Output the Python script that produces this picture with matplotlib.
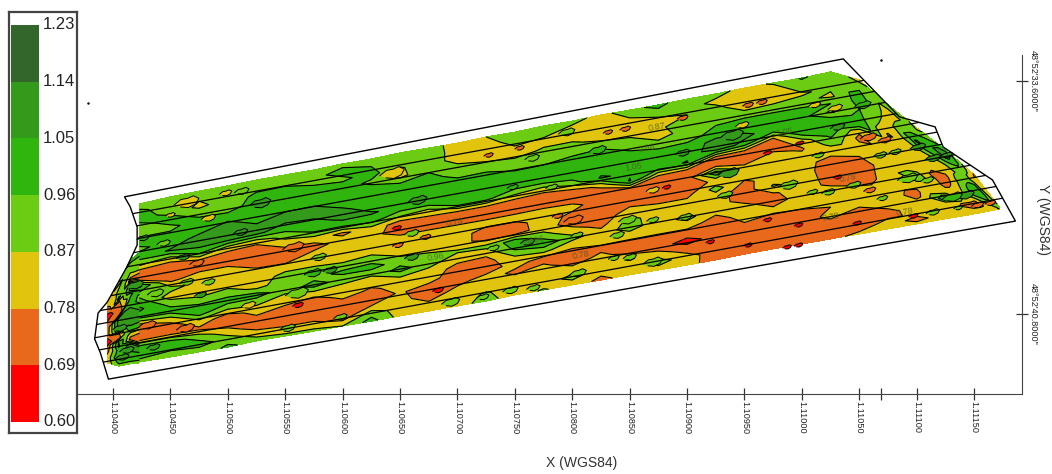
#!bin/python
#-*-coding:utf-8-*-

import matplotlib
matplotlib.use('Agg')
import matplotlib.pyplot as plt
import numpy as np
from matplotlib.colors import BoundaryNorm, ListedColormap
from matplotlib.patches import Polygon

plt.rcParams['font.family'] = ['Liberation Sans', 'DejaVu Sans']

# class limits and colours of the map
levels = [0.60, 0.69, 0.78, 0.87, 0.96, 1.05, 1.14, 1.23]
level_labels = ['0.60', '0.69', '0.78', '0.87', '0.96', '1.05', '1.14', '1.23']
colours = ['#ff0000', '#e8681c', '#e0c40e', '#6ccc14', '#30b40e', '#339a1c', '#33662a']

# longitude of each grid column, coloured area limits (seconds of latitude)
# the west lobe (first 4 columns) and the main strip share the 1.10423 column
lon_cols = [1.10395, 1.10405, 1.10415, 1.10423, 1.10423, 1.10450, 1.10475, 1.10500, 1.10525,
            1.10550, 1.10575, 1.10600, 1.10625, 1.10650, 1.10675, 1.10700, 1.10725, 1.10750,
            1.10775, 1.10800, 1.10825, 1.10850, 1.10875, 1.10900, 1.10925, 1.10950, 1.10975,
            1.11000, 1.11025, 1.11050, 1.11075, 1.11100, 1.11125, 1.11150, 1.11172]
lat_top = [40.46, 39.84, 39.13, 38.91, 37.40, 37.18, 37.00, 36.84, 36.66, 36.50, 36.35, 36.16,
           36.01, 35.82, 35.67, 35.52, 35.33, 35.18, 34.99, 34.84, 34.65, 34.50, 34.34, 34.16,
           34.00, 33.82, 33.66, 33.51, 33.32, 33.57, 34.34, 35.05, 35.73, 36.50, 37.49]
lat_bottom = [42.31, 42.41, 42.34, 42.31, 42.28, 42.13, 41.97, 41.82, 41.63, 41.48, 41.33, 41.17,
              41.02, 40.86, 40.71, 40.55, 40.40, 40.21, 40.06, 39.90, 39.75, 39.59, 39.44, 39.29,
              39.13, 38.95, 38.79, 38.64, 38.48, 38.33, 38.17, 38.02, 37.86, 37.71, 37.56]

col_values = [
    [.83,.8,.76,.73,.68,.66,.66,.72,.73,.72,.72,.73,.7,.68,.66,.68,.72,.75,.78,.8,.82,.84],
    [.9,.84,.9,.91,1.0,.75,.72,.73,.7,1.08,1.09,1.09,1.07,.76,.74,1.05,1.07,1.0,1.02,1.07,.99,.92],
    [1.0,.93,.92,.84,.74,1.07,1.08,.92,1.0,1.02,1.07,1.08,1.09,1.07,1.0,.82,.75,1.07,1.08,1.02,1.0,.92],
    [.98,.95,.92,.9,.76,.78,1.06,1.07,.95,.92,1.0,1.06,1.07,1.06,1.0,.8,.74,.76,1.07,1.05,1.0,.92],
    [.91,.98,1.0,.92,.93,1.0,.94,1.0,.9,.74,.73,1.07,.92,1.0,1.07,1.0,.77,.73,.74,1.0,1.02,.92],
    [.91,.91,.93,1.0,.94,.98,1.0,1.06,.84,.73,.72,.76,.91,.82,.93,1.0,.83,.73,.77,1.0,.97,.91],
    [.91,.88,.85,.93,1.0,1.0,1.08,1.08,1.0,.78,.73,.82,.83,.82,.88,.98,1.0,.84,.76,.92,1.0,.9],
    [.91,.88,.91,.92,1.0,1.08,1.09,1.08,.84,.73,.74,.82,.82,.84,.92,1.0,.88,.73,.74,.82,.92,.98],
    [.92,.93,.98,1.0,1.0,1.0,1.07,1.07,.82,.73,.73,.74,.82,.82,.84,1.0,.9,.82,.76,.73,.82,.92],
    [.92,.94,.98,1.0,1.0,1.06,1.07,1.0,.9,.82,.73,.73,.82,.9,.92,.91,.83,.78,.73,.72,.8,.9],
    [.92,.93,.96,1.0,1.0,1.07,1.08,1.0,.97,.82,.74,.82,.83,.9,.93,1.0,.84,.73,.72,.73,.8,.9],
    [.92,1.0,.94,1.0,1.0,1.0,1.07,1.08,.98,.76,.82,.83,.83,.88,.98,.92,.83,.82,.74,.72,.74,.87],
    [.92,.96,1.0,.94,1.0,1.0,1.0,1.06,1.0,.83,.82,.83,.84,.91,1.0,.88,.82,.76,.73,.78,.92,1.0],
    [.92,.92,.86,.84,.97,1.0,1.0,1.02,.9,.74,.72,.82,.82,.85,.91,1.0,.87,.82,.79,.82,.83,.83],
    [.9,.92,.92,.95,1.0,1.0,1.02,1.03,.85,.76,.73,.82,.83,.83,.91,.9,.83,.81,.74,.72,.8,.82],
    [.84,.83,.83,.89,.92,1.0,1.0,1.0,.97,.74,.73,.82,.82,.83,.88,.81,.75,.73,.75,.82,.83,.84],
    [.87,.83,.82,.86,.92,1.0,1.0,1.0,.98,.75,.72,.82,.74,.73,.9,.8,.74,.73,.82,.82,.88,.9],
    [.92,.91,.86,.84,.92,.96,1.0,1.0,.88,.73,.72,.82,.75,.73,1.0,.98,.87,.82,.76,.81,.82,.83],
    [.92,.9,.84,.88,.92,.96,1.0,1.02,.84,.73,.73,.82,.82,.83,.9,1.03,.9,.74,.8,.82,.82,.88],
    [.9,.84,.83,.89,.92,1.0,1.0,1.01,.92,.74,.73,.81,.76,.73,.82,.9,.8,.74,.73,.82,.9,.82],
    [.84,.83,.83,.84,.94,1.0,1.0,1.02,1.06,.8,.73,.73,.76,.73,.75,.82,.82,.75,.81,.82,.8,.76],
    [.92,.87,.84,.84,.9,.95,1.0,1.0,1.03,1.06,.75,.73,.76,.82,.9,.91,.82,.74,.73,.88,.82,.81],
    [1.0,.91,.84,.86,.84,.9,1.0,1.01,1.0,.78,.73,.73,.74,.81,.82,.82,.82,.73,.72,.82,.91,.82],
    [.88,.9,.87,.9,.9,.92,1.0,1.01,1.06,.76,.73,.73,.74,.81,.82,.9,.82,.73,.66,.74,.82,.81],
    [.9,.85,.9,.91,.96,1.0,1.08,1.09,.76,.73,1.02,.8,.91,.82,.82,.8,.74,.73,.72,.72,.73,.74],
    [.84,.83,.82,.88,.98,1.0,1.07,1.03,.76,.73,.8,.82,.76,.73,.74,.81,.82,.78,.73,.72,.72,.74],
    [.88,.83,.83,.89,.98,1.0,1.01,.78,.73,.8,.82,.82,.82,.88,.77,.74,.8,.76,.73,.72,.73,.74],
    [.97,.91,.86,.9,.98,1.0,1.01,1.0,.82,.77,.81,.8,.82,.84,.82,.82,.81,.76,.73,.72,.74,.75],
    [.92,.92,.89,.85,.96,.85,1.0,1.03,.98,.9,.81,.76,.73,.73,.76,.82,.82,.78,.81,.75,.78,.76],
    [.84,.93,1.0,1.0,.96,1.0,1.05,.8,.75,.82,.81,.74,.72,.72,.75,.82,.83,.8,.74,.72,.74,.8],
    [.95,.84,.83,.83,.83,.77,.82,.87,.82,.82,.81,.82,.83,.82,.82,.83,.82,.81,.76,.77,.81,.8],
    [.84,.91,1.0,1.07,.91,.83,.82,.82,.81,.82,.9,.96,.83,.8,.75,.74,.81,.82,.81,.79,.76,.8],
    [1.0,1.1,1.09,1.0,.92,.83,.82,.8,.75,.73,.73,.75,.82,.84,1.0,1.03,.85,.82,.82,.82,.81,.8],
    [.77,.78,.8,.82,.86,.95,1.0,1.02,1.04,1.03,1.0,.96,.9,.83,.78,.74,.72,.74,.78,.82,.83,.82],
    [.88,.88,.89,.89,.9,.9,.9,.9,.9,.9,.9,.9,.9,.9,.88,.88,.88,.88,.87,.87,.87,.87],
]

# small isolated patches seen on the map
blob_lon = [1.10464, 1.10483, 1.10498, 1.10512, 1.10528, 1.10450, 1.10426, 1.10444, 1.10511, 1.10461,
            1.10473, 1.10419, 1.10464, 1.10483, 1.10437, 1.10476, 1.10560, 1.10561, 1.10518, 1.10574,
            1.10589, 1.10579, 1.10557, 1.10430, 1.10463, 1.10408, 1.10412, 1.10406, 1.10435, 1.10552,
            1.10598, 1.10643, 1.10665, 1.10647, 1.10660, 1.10672, 1.10648, 1.10660, 1.10683, 1.10694,
            1.10754, 1.10727, 1.10765, 1.10795, 1.10831, 1.10846, 1.10822, 1.10782, 1.10748, 1.10787,
            1.10801, 1.10870, 1.10882, 1.10848, 1.10870, 1.10898, 1.10839, 1.10804, 1.10731, 1.10761,
            1.10850, 1.10870, 1.10836, 1.10805, 1.10766, 1.10746, 1.10722, 1.10896, 1.10896, 1.10953,
            1.10965, 1.10948, 1.10936, 1.10933, 1.10988, 1.11023, 1.11009, 1.11014, 1.11068, 1.11081,
            1.11101, 1.11114, 1.11126, 1.11092, 1.11109, 1.11142, 1.11131, 1.11153, 1.11164, 1.11097,
            1.11031, 1.11045, 1.11059, 1.11070, 1.11114, 1.11136, 1.10987, 1.10997, 1.10970, 1.10997,
            1.11048, 1.11058, 1.11072, 1.11029, 1.11011, 1.11053, 1.10920, 1.10953, 1.10970, 1.10998,
            1.10939, 1.11031]
blob_lat = [37.34, 37.83, 37.06, 37.00, 37.37, 37.74, 38.45, 38.61, 38.27, 39.04,
            39.22, 39.90, 39.81, 39.81, 40.15, 40.21, 40.15, 40.52, 40.52, 39.53,
            39.44, 39.04, 38.73, 41.14, 41.23, 42.13, 41.91, 41.23, 41.82, 41.23,
            40.89, 36.44, 37.28, 38.14, 38.30, 38.42, 38.67, 39.04, 40.06, 40.43,
            35.67, 35.89, 35.98, 35.18, 35.18, 35.08, 35.73, 36.88, 36.88, 37.77,
            37.89, 36.97, 36.88, 37.89, 37.89, 37.80, 38.36, 38.36, 38.76, 38.57,
            39.04, 39.19, 39.07, 39.53, 39.99, 40.06, 40.27, 34.74, 35.82, 34.34,
            34.25, 34.96, 36.44, 37.12, 36.81, 37.03, 37.03, 35.89, 35.89, 35.79,
            35.64, 35.98, 35.89, 36.60, 36.66, 37.12, 37.18, 37.43, 37.37, 37.77,
            36.57, 36.81, 36.97, 37.22, 37.65, 37.52, 38.73, 38.67, 37.89, 38.05,
            37.99, 35.33, 35.42, 34.43, 34.34, 34.34, 38.57, 38.67, 35.82, 35.52,
            35.27, 35.02]
blob_val = [.82, .82, .82, .91, 1.09, .82, 1.09, .91, 1.09, 1.09,
            .73, 1.09, .91, .91, .91, 1.09, .91, .65, .82, 1.0,
            1.09, .91, .73, .73, .73, 1.09, 1.09, 1.09, 1.09, .91,
            .91, .82, 1.09, .65, .91, .73, .73, 1.09, .65, .91,
            .73, .73, .91, .91, .73, .73, 1.0, .91, 1.0, .73,
            .73, .82, .65, .91, .91, .91, .91, .91, .91, 1.09,
            .91, .91, .91, .91, .91, .91, .91, .73, 1.09, .73,
            .73, .82, 1.09, .91, .91, .91, .91, .91, .91, .91,
            1.09, 1.09, 1.09, .91, .91, 1.09, 1.0, .73, .73, .65,
            .65, .91, .73, .91, .91, .91, .65, .65, .65, .65,
            .65, .73, .73, .82, .82, 1.0, .65, .65, .65, .65,
            1.09, 1.09]
blob_size = [40, 14, 10, 14, 30, 6, 10, 12, 14, 12,
             14, 20, 14, 12, 18, 10, 35, 8, 14, 20,
             14, 16, 30, 20, 22, 12, 14, 14, 12, 16,
             12, 40, 24, 6, 14, 8, 8, 14, 8, 22,
             6, 6, 14, 18, 6, 8, 20, 10, 8, 8,
             25, 12, 5, 22, 10, 14, 14, 10, 10, 14,
             12, 25, 8, 18, 12, 16, 10, 8, 14, 8,
             8, 12, 30, 16, 25, 12, 8, 10, 12, 10,
             16, 16, 10, 28, 12, 22, 26, 10, 8, 6,
             5, 14, 10, 8, 12, 5, 5, 5, 5, 5,
             5, 18, 12, 14, 10, 18, 5, 5, 5, 5,
             35, 14]

# field outline
outline_lon = [1.10410, 1.11036, 1.11085, 1.11116, 1.11123, 1.11166, 1.11186, 1.10396,
               1.10389, 1.10384, 1.10387, 1.10395, 1.10412, 1.10421, 1.10421, 1.10415]
outline_lat = [37.18, 32.92, 34.71, 35.02, 35.64, 36.66, 37.93, 42.81,
               42.00, 41.57, 40.77, 40.43, 39.35, 38.67, 38.11, 37.49]

# harvest passes, latitude at both ends
pass_lon = [1.1038, 1.1120]
pass_lat_west = [37.94, 38.34, 38.74, 39.15, 39.55, 39.95, 40.35, 40.75, 41.16, 41.56, 41.96, 42.36]
pass_lat_east = [32.64, 33.04, 33.44, 33.85, 34.25, 34.65, 35.05, 35.45, 35.86, 36.26, 36.66, 37.06]

# contour labels
label_lon = [1.10698, 1.10681, 1.10807, 1.10768, 1.10865, 1.10874, 1.10853, 1.10985, 1.11025, 1.11090, 1.11040]
label_lat = [37.96, 39.04, 38.98, 38.51, 35.67, 35.02, 36.26, 35.18, 37.80, 37.65, 36.60]
label_text = ['0.78', '0.96', '0.78', '0.96', '0.96', '0.87', '1.05', '1.05', '0.78', '0.78', '0.78']

# stray points left on the map
stray_lon = [1.10378, 1.11069]
stray_lat = [34.29, 32.94]

# axes ticks
x_ticks = [1.10400, 1.10450, 1.10500, 1.10550, 1.10600, 1.10650, 1.10700, 1.10750, 1.10800,
           1.10850, 1.10900, 1.10950, 1.11000, 1.11050, 1.11069, 1.11100, 1.11150]
x_tick_labels = ['1.10400', '1.10450', '1.10500', '1.10550', '1.10600', '1.10650', '1.10700', '1.10750', '1.10800',
                 '1.10850', '1.10900', '1.10950', '1.11000', '1.11050', '', '1.11100', '1.11150']
y_ticks = [33.6, 40.8]
y_tick_labels = ['48\u00b052\'33.6000"', '48\u00b052\'40.8000"']

W, H = 1052.0, 474.0
fig = plt.figure(figsize=(W/100, H/100), dpi=100)

# map
ax = fig.add_axes([78/W, 1-394/H, (1022-78)/W, (394-55)/H])
values = np.array(col_values).T
t = np.linspace(0, 1, values.shape[0])
X = np.tile(lon_cols, (values.shape[0], 1))
Y = np.outer(1-t, lat_top) + np.outer(t, lat_bottom)
for part in [slice(0, 4), slice(4, None)]:
    ax.contourf(X[:, part], Y[:, part], values[:, part], levels=levels, colors=colours)
    ax.contour(X[:, part], Y[:, part], values[:, part], levels=levels, colors='black', linewidths=0.8)

# blobs are flattened along the direction of the strip
blob_shape = [(-1, -0.25), (-0.45, 0.2), (0.1, 0.3), (0.55, 0.5), (1, 0.3), (0.75, -0.15), (0.15, -0.45), (-0.5, -0.4)]
ax.scatter(blob_lon, blob_lat, s=[8*v for v in blob_size], c=blob_val, marker=blob_shape,
           cmap=ListedColormap(colours), norm=BoundaryNorm(levels, len(colours)),
           edgecolors='black', linewidths=0.7, zorder=2)

outline = Polygon(np.column_stack([outline_lon, outline_lat]), closed=True, fill=False, edgecolor='black', linewidth=1.0, zorder=4)
ax.add_patch(outline)
for w, e in zip(pass_lat_west, pass_lat_east):
    line, = ax.plot(pass_lon, [w, e], color='black', linewidth=0.9, zorder=3)
    line.set_clip_path(outline)

for lo, la, s in zip(label_lon, label_lat, label_text):
    ax.text(lo, la, s, fontsize=6.5, color='#4a5a20', alpha=0.75, rotation=10, ha='center', va='center', zorder=5)
ax.plot(stray_lon, stray_lat, 'k.', markersize=1.5)

ax.set_xlim(1.103695, 1.111917)
ax.set_ylim(43.27, 32.80)
ax.spines['top'].set_visible(False)
ax.spines['left'].set_visible(False)
ax.spines['bottom'].set_color('#444444')
ax.spines['right'].set_color('#444444')
ax.yaxis.tick_right()
ax.set_xticks(x_ticks)
ax.set_xticklabels(x_tick_labels, rotation=270, fontsize=6.6, color='#222222')
ax.set_yticks(y_ticks)
ax.set_yticklabels(y_tick_labels, rotation=270, fontsize=6.6, color='#222222', va='center')
ax.tick_params(direction='inout', length=8, width=0.9, color='#333333', pad=1)
fig.text(582/W, 1-463/H, 'X (WGS84)', fontsize=10, color='#333333', ha='center', va='center')
fig.text(1043/W, 1-220/H, 'Y (WGS84)', fontsize=10, color='#333333', rotation=270, ha='center', va='center')

# legend
leg = fig.add_axes([9/W, 1-433/H, 68/W, 421/H])
for i in range(len(colours)):
    leg.bar(0.235, levels[i+1]-levels[i], width=0.41, bottom=levels[i], color=colours[i])
for lev, s in zip(levels, level_labels):
    leg.text(0.5, lev, s, fontsize=12, color='#222222', va='center', ha='left')
leg.set_xlim(0, 1)
leg.set_ylim(0.5825, 1.2506)
leg.set_xticks([])
leg.set_yticks([])
for sp in leg.spines.values():
    sp.set_color('#444444')
    sp.set_linewidth(1.6)

fig.savefig('out.png', dpi=100)
